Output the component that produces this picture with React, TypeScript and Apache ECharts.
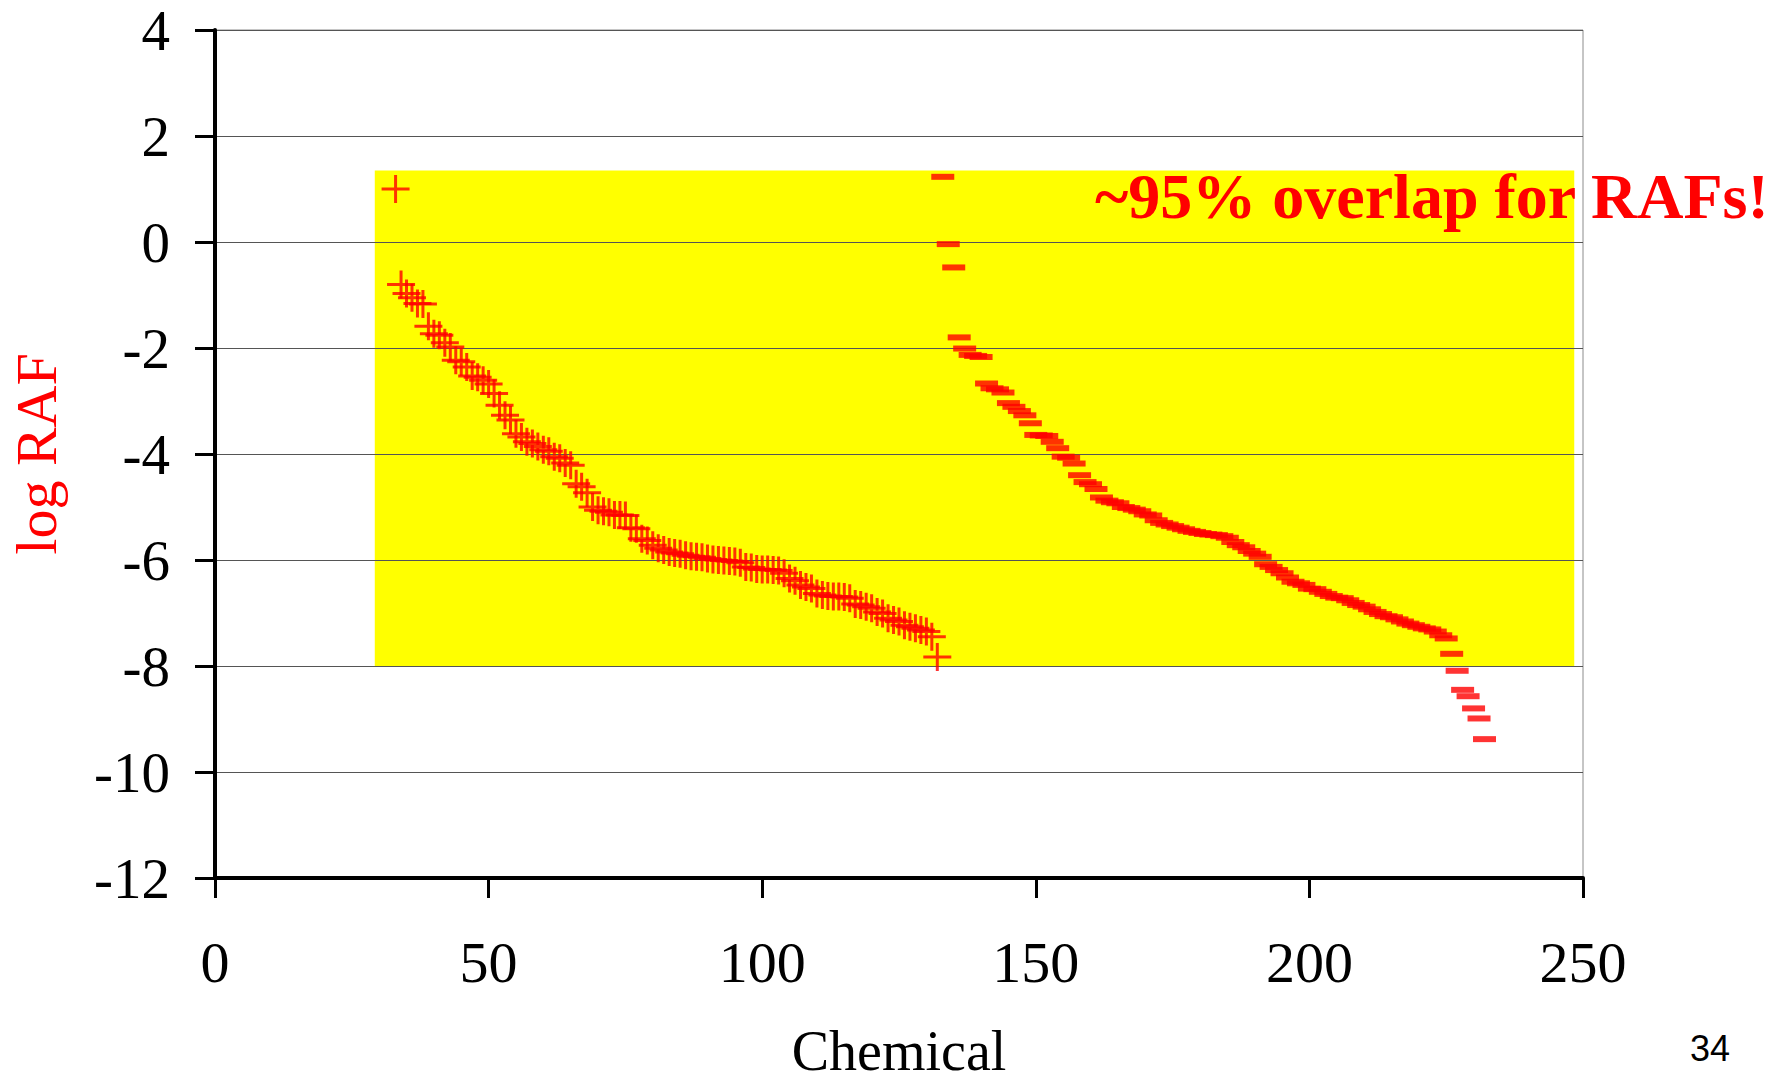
import React, { useEffect, useRef } from "react";
import * as echarts from "echarts";

// ---- data ----
const xTickInterval = 50;
const xMin = 0;
const xMax = 250;
const yTickInterval = 2;
const yMin = -12;
const yMax = 4;

// first set: chemicals 33..132 ("+" markers)
const raf1StartChemical = 33;
const raf1Values = [
  1.0, -0.8, -0.97, -1.05, -1.16, -1.17, -1.59, -1.73, -1.76, -1.9,
  -1.98, -2.23, -2.26, -2.36, -2.53, -2.55, -2.61, -2.68, -2.86, -3.08,
  -3.27, -3.36, -3.62, -3.68, -3.77, -3.8, -3.86, -3.92, -3.95, -4.05,
  -4.08, -4.17, -4.21, -4.56, -4.62, -4.73, -5.0, -5.06, -5.08, -5.1,
  -5.15, -5.15, -5.16, -5.39, -5.41, -5.6, -5.63, -5.72, -5.78, -5.81,
  -5.85, -5.87, -5.88, -5.91, -5.93, -5.94, -5.95, -5.97, -5.99, -6.0,
  -6.01, -6.02, -6.03, -6.05, -6.13, -6.14, -6.17, -6.18, -6.18, -6.19,
  -6.2, -6.25, -6.35, -6.39, -6.47, -6.51, -6.54, -6.63, -6.66, -6.68,
  -6.69, -6.69, -6.7, -6.72, -6.83, -6.85, -6.88, -6.91, -6.98, -7.01,
  -7.1, -7.13, -7.16, -7.23, -7.26, -7.29, -7.32, -7.35, -7.45, -7.83,
];

// second set: chemicals 133..232 ("-" markers)
const raf2StartChemical = 133;
const raf2Values = [
  1.23, -0.04, -0.48, -1.8, -2.01, -2.13, -2.15, -2.17, -2.67, -2.76,
  -2.78, -2.84, -3.04, -3.11, -3.19, -3.27, -3.42, -3.64, -3.65, -3.66,
  -3.77, -3.89, -4.05, -4.07, -4.18, -4.4, -4.53, -4.57, -4.66, -4.82,
  -4.88, -4.91, -4.93, -5.0, -5.02, -5.05, -5.08, -5.14, -5.16, -5.25,
  -5.3, -5.33, -5.36, -5.39, -5.42, -5.45, -5.47, -5.49, -5.51, -5.52,
  -5.53, -5.55, -5.58, -5.66, -5.72, -5.76, -5.83, -5.88, -5.94, -6.08,
  -6.13, -6.19, -6.25, -6.33, -6.41, -6.44, -6.47, -6.54, -6.55, -6.6,
  -6.64, -6.68, -6.71, -6.72, -6.76, -6.81, -6.85, -6.88, -6.93, -6.98,
  -7.02, -7.06, -7.08, -7.12, -7.16, -7.2, -7.23, -7.26, -7.29, -7.31,
  -7.35, -7.42, -7.48, -7.77, -8.09, -8.45, -8.57, -8.8, -8.99, -9.38,
];

// highlighted (yellow) region in data coordinates
const highlightXRange = [29.2, 248.4];
const highlightYRange = [-8, 1.35];

const xAxisTitle = "Chemical";
const yAxisTitle = "log RAF";
const annotationText = "~95% overlap for RAFs!";
const pageNumber = "34";

const SERIF = '"Liberation Serif", "Times New Roman", serif';
const SANS = '"Liberation Sans", Arial, sans-serif';
const PLUS_PATH =
  "path://M12.5,0H15.5V12.5H28V15.5H15.5V28H12.5V15.5H0V12.5H12.5Z";

export default function App() {
  const ref = useRef<HTMLDivElement>(null);

  useEffect(() => {
    document.body.style.margin = "0";
    document.body.style.overflow = "hidden";
    const chart = echarts.init(ref.current!, null, { renderer: "svg" });

    const raf1Data = raf1Values.map((v, i) => [raf1StartChemical + i, v]);
    const raf2Data = raf2Values.map((v, i) => [raf2StartChemical + i, v]);

    chart.setOption({
      animation: false,
      backgroundColor: "#ffffff",
      grid: {
        left: 215,
        top: 30,
        width: 1368,
        height: 848,
        containLabel: false,
        outerBoundsMode: "none",
        show: true,
        borderColor: "#8c8c8c",
        borderWidth: 1,
        backgroundColor: "transparent",
      },
      xAxis: {
        type: "value",
        min: xMin,
        max: xMax,
        interval: xTickInterval,
        z: 1.5,
        axisLine: { show: true, onZero: false, lineStyle: { color: "#000", width: 4 } },
        axisTick: { show: true, length: 20, lineStyle: { color: "#000", width: 3 } },
        axisLabel: { fontFamily: SERIF, fontSize: 58, color: "#000", margin: 55 },
        splitLine: { show: false },
        name: xAxisTitle,
        nameLocation: "middle",
        nameGap: 145,
        nameTextStyle: { fontFamily: SERIF, fontSize: 56, color: "#000" },
      },
      yAxis: {
        type: "value",
        min: yMin,
        max: yMax,
        interval: yTickInterval,
        z: 1.5,
        axisLine: { show: true, onZero: false, lineStyle: { color: "#000", width: 4 } },
        axisTick: { show: true, length: 20, lineStyle: { color: "#000", width: 3 } },
        axisLabel: { fontFamily: SERIF, fontSize: 57, color: "#000", margin: 45 },
        splitLine: { show: true, lineStyle: { color: "#555", width: 1 } },
      },
      series: [
        {
          name: "set1",
          type: "scatter",
          data: raf1Data,
          symbol: PLUS_PATH,
          symbolSize: 28,
          itemStyle: { color: "#ff0000" },
          z: 3,
          markArea: {
            silent: true,
            z: 1,
            itemStyle: { color: "#ffff00", opacity: 1, borderWidth: 0 },
            data: [
              [
                { coord: [highlightXRange[0], highlightYRange[1]] },
                { coord: [highlightXRange[1], highlightYRange[0]] },
              ],
            ],
          },
        },
        {
          name: "set2",
          type: "scatter",
          data: raf2Data,
          symbol: "rect",
          symbolSize: [23, 6],
          itemStyle: { color: "#ff0000" },
          z: 3,
        },
      ],
      graphic: [
        {
          type: "text",
          x: 1095,
          y: 196,
          z: 10,
          style: {
            text: annotationText,
            font: `bold 64px ${SERIF}`,
            fill: "#ff0000",
            align: "left",
            verticalAlign: "middle",
          },
        },
        {
          type: "text",
          x: 36,
          y: 454,
          rotation: Math.PI / 2,
          z: 10,
          style: {
            text: yAxisTitle,
            font: `58px ${SERIF}`,
            fill: "#ff0000",
            align: "center",
            verticalAlign: "middle",
          },
        },
        {
          type: "text",
          x: 1710,
          y: 1048,
          z: 10,
          style: {
            text: pageNumber,
            font: `36px ${SANS}`,
            fill: "#000",
            align: "center",
            verticalAlign: "middle",
          },
        },
      ],
    });

    return () => chart.dispose();
  }, []);

  return <div ref={ref} style={{ width: 1788, height: 1087 }} />;
}
